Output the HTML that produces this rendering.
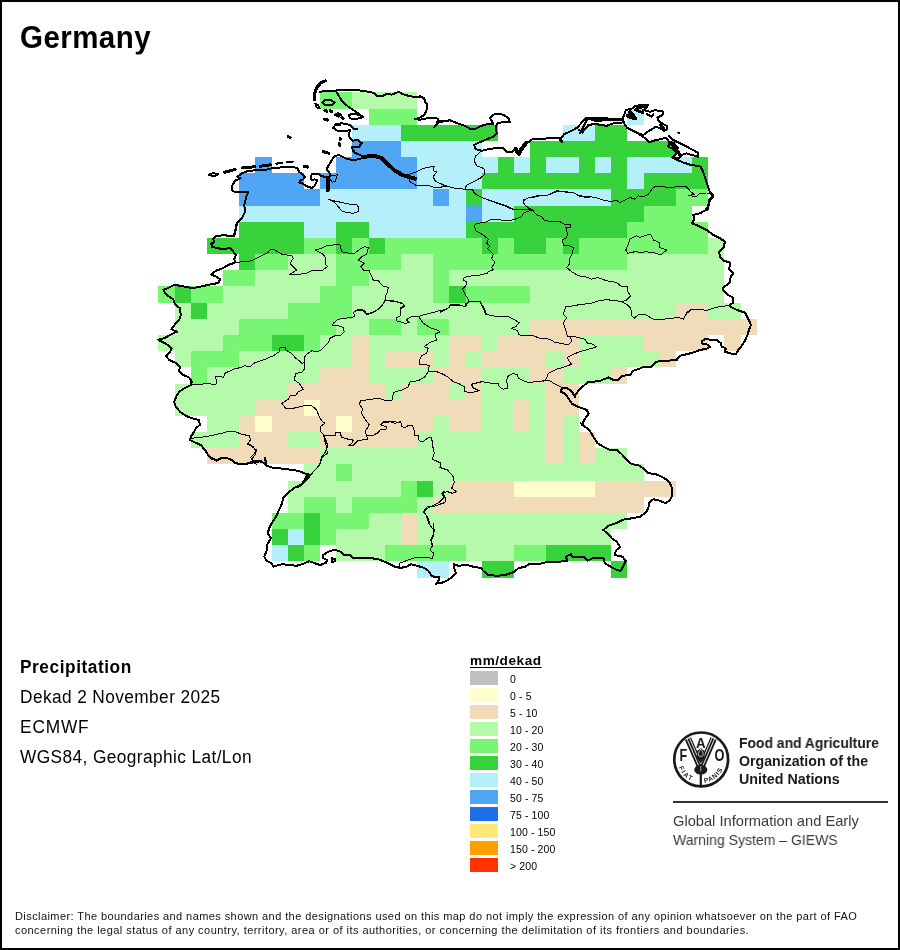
<!DOCTYPE html>
<html lang="en">
<head>
<meta charset="utf-8">
<title>Germany - Precipitation</title>
<style>
html,body{margin:0;padding:0;background:#fff;}
body{width:900px;height:950px;position:relative;overflow:hidden;font-family:"Liberation Sans",Arial,sans-serif;color:#000;}
#frame{position:absolute;left:0;top:0;width:896px;height:946px;border:2px solid #000;pointer-events:none;z-index:5;}
.t{position:absolute;white-space:nowrap;line-height:1;will-change:transform;}
#title{left:19.5px;top:23.1px;font-size:29.5px;font-weight:bold;letter-spacing:0.45px;transform-origin:0 80%;transform:scaleY(1.06);}
.info{left:20px;font-size:17.3px;letter-spacing:0.4px;transform-origin:0 80%;transform:scaleY(1.04);}
#map{position:absolute;left:0;top:0;will-change:transform;}
.sw{position:absolute;left:470px;width:28px;height:14px;}
.lb{will-change:transform;transform:translateY(0.7px);position:absolute;left:509.5px;font-size:10.5px;letter-spacing:0.12px;white-space:nowrap;line-height:1;}
#unit{left:470px;top:653.5px;font-size:13.6px;font-weight:bold;letter-spacing:0.55px;text-decoration:underline;text-underline-offset:2px;text-decoration-thickness:1px;}
.fa{left:739px;font-size:14px;font-weight:bold;transform-origin:0 0;color:#1a1a1a;}
.gi{left:673px;font-size:14.5px;color:#3a3a3a;transform-origin:0 0;}
#rule{position:absolute;left:673px;top:801px;width:215px;height:2px;background:#333;}
.disc{left:15px;font-size:11px;line-height:14px;color:#111;}
</style>
</head>
<body>
<svg id="map" width="900" height="950" viewBox="0 0 900 950">
<g shape-rendering="crispEdges">
<rect x="320" y="92" width="32" height="17" fill="#78f573"/>
<rect x="352" y="92" width="65" height="17" fill="#b4faaa"/>
<rect x="369" y="109" width="48" height="16" fill="#78f573"/>
<rect x="627" y="109" width="17" height="16" fill="#b4f0fa"/>
<rect x="352" y="125" width="49" height="16" fill="#b4f0fa"/>
<rect x="401" y="125" width="97" height="16" fill="#37d23c"/>
<rect x="563" y="125" width="32" height="16" fill="#b4f0fa"/>
<rect x="595" y="125" width="32" height="16" fill="#37d23c"/>
<rect x="352" y="141" width="49" height="16" fill="#50a5f5"/>
<rect x="401" y="141" width="81" height="16" fill="#b4f0fa"/>
<rect x="530" y="141" width="146" height="16" fill="#37d23c"/>
<rect x="255" y="157" width="17" height="16" fill="#50a5f5"/>
<rect x="336" y="157" width="81" height="16" fill="#50a5f5"/>
<rect x="417" y="157" width="81" height="16" fill="#b4f0fa"/>
<rect x="498" y="157" width="16" height="16" fill="#37d23c"/>
<rect x="514" y="157" width="16" height="16" fill="#b4f0fa"/>
<rect x="530" y="157" width="16" height="16" fill="#37d23c"/>
<rect x="546" y="157" width="33" height="16" fill="#b4f0fa"/>
<rect x="579" y="157" width="16" height="16" fill="#37d23c"/>
<rect x="595" y="157" width="16" height="16" fill="#b4f0fa"/>
<rect x="611" y="157" width="16" height="16" fill="#37d23c"/>
<rect x="627" y="157" width="65" height="16" fill="#b4f0fa"/>
<rect x="692" y="157" width="16" height="16" fill="#37d23c"/>
<rect x="239" y="173" width="65" height="16" fill="#50a5f5"/>
<rect x="320" y="173" width="97" height="16" fill="#50a5f5"/>
<rect x="417" y="173" width="65" height="16" fill="#b4f0fa"/>
<rect x="482" y="173" width="145" height="16" fill="#37d23c"/>
<rect x="627" y="173" width="17" height="16" fill="#b4f0fa"/>
<rect x="644" y="173" width="64" height="16" fill="#37d23c"/>
<rect x="239" y="189" width="81" height="17" fill="#50a5f5"/>
<rect x="320" y="189" width="113" height="17" fill="#b4f0fa"/>
<rect x="433" y="189" width="16" height="17" fill="#50a5f5"/>
<rect x="449" y="189" width="17" height="17" fill="#b4f0fa"/>
<rect x="466" y="189" width="16" height="17" fill="#37d23c"/>
<rect x="482" y="189" width="129" height="17" fill="#b4f0fa"/>
<rect x="611" y="189" width="65" height="17" fill="#37d23c"/>
<rect x="676" y="189" width="32" height="17" fill="#78f573"/>
<rect x="239" y="206" width="227" height="16" fill="#b4f0fa"/>
<rect x="466" y="206" width="16" height="16" fill="#50a5f5"/>
<rect x="482" y="206" width="32" height="16" fill="#b4f0fa"/>
<rect x="514" y="206" width="130" height="16" fill="#37d23c"/>
<rect x="644" y="206" width="48" height="16" fill="#78f573"/>
<rect x="239" y="222" width="65" height="16" fill="#37d23c"/>
<rect x="304" y="222" width="32" height="16" fill="#b4f0fa"/>
<rect x="336" y="222" width="33" height="16" fill="#37d23c"/>
<rect x="369" y="222" width="97" height="16" fill="#b4f0fa"/>
<rect x="466" y="222" width="161" height="16" fill="#37d23c"/>
<rect x="627" y="222" width="81" height="16" fill="#78f573"/>
<rect x="207" y="238" width="97" height="16" fill="#37d23c"/>
<rect x="304" y="238" width="32" height="16" fill="#78f573"/>
<rect x="336" y="238" width="16" height="16" fill="#37d23c"/>
<rect x="352" y="238" width="17" height="16" fill="#78f573"/>
<rect x="369" y="238" width="16" height="16" fill="#37d23c"/>
<rect x="385" y="238" width="97" height="16" fill="#78f573"/>
<rect x="482" y="238" width="16" height="16" fill="#37d23c"/>
<rect x="498" y="238" width="16" height="16" fill="#78f573"/>
<rect x="514" y="238" width="32" height="16" fill="#37d23c"/>
<rect x="546" y="238" width="17" height="16" fill="#78f573"/>
<rect x="563" y="238" width="16" height="16" fill="#37d23c"/>
<rect x="579" y="238" width="129" height="16" fill="#78f573"/>
<rect x="708" y="238" width="16" height="16" fill="#b4faaa"/>
<rect x="239" y="254" width="16" height="16" fill="#37d23c"/>
<rect x="255" y="254" width="33" height="16" fill="#78f573"/>
<rect x="288" y="254" width="48" height="16" fill="#b4faaa"/>
<rect x="336" y="254" width="65" height="16" fill="#78f573"/>
<rect x="401" y="254" width="32" height="16" fill="#b4faaa"/>
<rect x="433" y="254" width="194" height="16" fill="#78f573"/>
<rect x="627" y="254" width="97" height="16" fill="#b4faaa"/>
<rect x="223" y="270" width="32" height="16" fill="#78f573"/>
<rect x="255" y="270" width="81" height="16" fill="#b4faaa"/>
<rect x="336" y="270" width="33" height="16" fill="#78f573"/>
<rect x="369" y="270" width="64" height="16" fill="#b4faaa"/>
<rect x="433" y="270" width="16" height="16" fill="#78f573"/>
<rect x="449" y="270" width="275" height="16" fill="#b4faaa"/>
<rect x="158" y="286" width="17" height="17" fill="#78f573"/>
<rect x="175" y="286" width="16" height="17" fill="#37d23c"/>
<rect x="191" y="286" width="32" height="17" fill="#78f573"/>
<rect x="223" y="286" width="97" height="17" fill="#b4faaa"/>
<rect x="320" y="286" width="32" height="17" fill="#78f573"/>
<rect x="352" y="286" width="81" height="17" fill="#b4faaa"/>
<rect x="433" y="286" width="16" height="17" fill="#78f573"/>
<rect x="449" y="286" width="17" height="17" fill="#37d23c"/>
<rect x="466" y="286" width="64" height="17" fill="#78f573"/>
<rect x="530" y="286" width="194" height="17" fill="#b4faaa"/>
<rect x="175" y="303" width="16" height="16" fill="#b4faaa"/>
<rect x="191" y="303" width="16" height="16" fill="#37d23c"/>
<rect x="207" y="303" width="81" height="16" fill="#b4faaa"/>
<rect x="288" y="303" width="64" height="16" fill="#78f573"/>
<rect x="352" y="303" width="324" height="16" fill="#b4faaa"/>
<rect x="676" y="303" width="32" height="16" fill="#f0dcb9"/>
<rect x="708" y="303" width="33" height="16" fill="#b4faaa"/>
<rect x="175" y="319" width="64" height="16" fill="#b4faaa"/>
<rect x="239" y="319" width="97" height="16" fill="#78f573"/>
<rect x="336" y="319" width="33" height="16" fill="#b4faaa"/>
<rect x="369" y="319" width="32" height="16" fill="#78f573"/>
<rect x="401" y="319" width="16" height="16" fill="#b4faaa"/>
<rect x="417" y="319" width="32" height="16" fill="#78f573"/>
<rect x="449" y="319" width="81" height="16" fill="#b4faaa"/>
<rect x="530" y="319" width="227" height="16" fill="#f0dcb9"/>
<rect x="158" y="335" width="65" height="16" fill="#b4faaa"/>
<rect x="223" y="335" width="49" height="16" fill="#78f573"/>
<rect x="272" y="335" width="32" height="16" fill="#37d23c"/>
<rect x="304" y="335" width="16" height="16" fill="#78f573"/>
<rect x="320" y="335" width="32" height="16" fill="#b4faaa"/>
<rect x="352" y="335" width="17" height="16" fill="#f0dcb9"/>
<rect x="369" y="335" width="80" height="16" fill="#b4faaa"/>
<rect x="449" y="335" width="33" height="16" fill="#f0dcb9"/>
<rect x="482" y="335" width="16" height="16" fill="#b4faaa"/>
<rect x="498" y="335" width="81" height="16" fill="#f0dcb9"/>
<rect x="579" y="335" width="65" height="16" fill="#b4faaa"/>
<rect x="644" y="335" width="64" height="16" fill="#f0dcb9"/>
<rect x="724" y="335" width="17" height="16" fill="#f0dcb9"/>
<rect x="175" y="351" width="16" height="16" fill="#b4faaa"/>
<rect x="191" y="351" width="48" height="16" fill="#78f573"/>
<rect x="239" y="351" width="113" height="16" fill="#b4faaa"/>
<rect x="352" y="351" width="17" height="16" fill="#f0dcb9"/>
<rect x="369" y="351" width="16" height="16" fill="#b4faaa"/>
<rect x="385" y="351" width="48" height="16" fill="#f0dcb9"/>
<rect x="433" y="351" width="16" height="16" fill="#b4faaa"/>
<rect x="449" y="351" width="17" height="16" fill="#f0dcb9"/>
<rect x="466" y="351" width="16" height="16" fill="#b4faaa"/>
<rect x="482" y="351" width="64" height="16" fill="#f0dcb9"/>
<rect x="546" y="351" width="17" height="16" fill="#b4faaa"/>
<rect x="563" y="351" width="16" height="16" fill="#f0dcb9"/>
<rect x="579" y="351" width="81" height="16" fill="#b4faaa"/>
<rect x="660" y="351" width="16" height="16" fill="#f0dcb9"/>
<rect x="191" y="367" width="16" height="17" fill="#78f573"/>
<rect x="207" y="367" width="113" height="17" fill="#b4faaa"/>
<rect x="320" y="367" width="49" height="17" fill="#f0dcb9"/>
<rect x="369" y="367" width="64" height="17" fill="#b4faaa"/>
<rect x="433" y="367" width="49" height="17" fill="#f0dcb9"/>
<rect x="482" y="367" width="48" height="17" fill="#b4faaa"/>
<rect x="530" y="367" width="33" height="17" fill="#f0dcb9"/>
<rect x="563" y="367" width="48" height="17" fill="#b4faaa"/>
<rect x="611" y="367" width="16" height="17" fill="#f0dcb9"/>
<rect x="175" y="384" width="113" height="16" fill="#b4faaa"/>
<rect x="288" y="384" width="97" height="16" fill="#f0dcb9"/>
<rect x="385" y="384" width="16" height="16" fill="#b4faaa"/>
<rect x="401" y="384" width="48" height="16" fill="#f0dcb9"/>
<rect x="449" y="384" width="17" height="16" fill="#b4faaa"/>
<rect x="466" y="384" width="16" height="16" fill="#f0dcb9"/>
<rect x="482" y="384" width="64" height="16" fill="#b4faaa"/>
<rect x="546" y="384" width="33" height="16" fill="#f0dcb9"/>
<rect x="175" y="400" width="80" height="16" fill="#b4faaa"/>
<rect x="255" y="400" width="49" height="16" fill="#f0dcb9"/>
<rect x="304" y="400" width="16" height="16" fill="#ffffcc"/>
<rect x="320" y="400" width="162" height="16" fill="#f0dcb9"/>
<rect x="482" y="400" width="32" height="16" fill="#b4faaa"/>
<rect x="514" y="400" width="16" height="16" fill="#f0dcb9"/>
<rect x="530" y="400" width="16" height="16" fill="#b4faaa"/>
<rect x="546" y="400" width="33" height="16" fill="#f0dcb9"/>
<rect x="207" y="416" width="32" height="16" fill="#b4faaa"/>
<rect x="239" y="416" width="16" height="16" fill="#f0dcb9"/>
<rect x="255" y="416" width="17" height="16" fill="#ffffcc"/>
<rect x="272" y="416" width="64" height="16" fill="#f0dcb9"/>
<rect x="336" y="416" width="16" height="16" fill="#ffffcc"/>
<rect x="352" y="416" width="81" height="16" fill="#f0dcb9"/>
<rect x="433" y="416" width="16" height="16" fill="#b4faaa"/>
<rect x="449" y="416" width="33" height="16" fill="#f0dcb9"/>
<rect x="482" y="416" width="32" height="16" fill="#b4faaa"/>
<rect x="514" y="416" width="16" height="16" fill="#f0dcb9"/>
<rect x="530" y="416" width="16" height="16" fill="#b4faaa"/>
<rect x="546" y="416" width="17" height="16" fill="#f0dcb9"/>
<rect x="563" y="416" width="16" height="16" fill="#b4faaa"/>
<rect x="191" y="432" width="48" height="16" fill="#b4faaa"/>
<rect x="239" y="432" width="49" height="16" fill="#f0dcb9"/>
<rect x="288" y="432" width="32" height="16" fill="#b4faaa"/>
<rect x="320" y="432" width="97" height="16" fill="#f0dcb9"/>
<rect x="417" y="432" width="129" height="16" fill="#b4faaa"/>
<rect x="546" y="432" width="17" height="16" fill="#f0dcb9"/>
<rect x="563" y="432" width="16" height="16" fill="#b4faaa"/>
<rect x="579" y="432" width="16" height="16" fill="#f0dcb9"/>
<rect x="207" y="448" width="113" height="16" fill="#f0dcb9"/>
<rect x="320" y="448" width="226" height="16" fill="#b4faaa"/>
<rect x="546" y="448" width="17" height="16" fill="#f0dcb9"/>
<rect x="563" y="448" width="16" height="16" fill="#b4faaa"/>
<rect x="579" y="448" width="16" height="16" fill="#f0dcb9"/>
<rect x="595" y="448" width="32" height="16" fill="#b4faaa"/>
<rect x="304" y="464" width="32" height="17" fill="#b4faaa"/>
<rect x="336" y="464" width="16" height="17" fill="#78f573"/>
<rect x="352" y="464" width="292" height="17" fill="#b4faaa"/>
<rect x="288" y="481" width="113" height="16" fill="#b4faaa"/>
<rect x="401" y="481" width="16" height="16" fill="#78f573"/>
<rect x="417" y="481" width="16" height="16" fill="#37d23c"/>
<rect x="433" y="481" width="16" height="16" fill="#b4faaa"/>
<rect x="449" y="481" width="65" height="16" fill="#f0dcb9"/>
<rect x="514" y="481" width="81" height="16" fill="#ffffcc"/>
<rect x="595" y="481" width="81" height="16" fill="#f0dcb9"/>
<rect x="288" y="497" width="16" height="16" fill="#b4faaa"/>
<rect x="304" y="497" width="32" height="16" fill="#78f573"/>
<rect x="336" y="497" width="16" height="16" fill="#b4faaa"/>
<rect x="352" y="497" width="65" height="16" fill="#78f573"/>
<rect x="417" y="497" width="16" height="16" fill="#b4faaa"/>
<rect x="433" y="497" width="211" height="16" fill="#f0dcb9"/>
<rect x="272" y="513" width="32" height="16" fill="#78f573"/>
<rect x="304" y="513" width="16" height="16" fill="#37d23c"/>
<rect x="320" y="513" width="49" height="16" fill="#78f573"/>
<rect x="369" y="513" width="32" height="16" fill="#b4faaa"/>
<rect x="401" y="513" width="16" height="16" fill="#f0dcb9"/>
<rect x="417" y="513" width="210" height="16" fill="#b4faaa"/>
<rect x="272" y="529" width="16" height="16" fill="#37d23c"/>
<rect x="288" y="529" width="16" height="16" fill="#b4f0fa"/>
<rect x="304" y="529" width="16" height="16" fill="#37d23c"/>
<rect x="320" y="529" width="16" height="16" fill="#78f573"/>
<rect x="336" y="529" width="65" height="16" fill="#b4faaa"/>
<rect x="401" y="529" width="16" height="16" fill="#f0dcb9"/>
<rect x="417" y="529" width="194" height="16" fill="#b4faaa"/>
<rect x="272" y="545" width="16" height="16" fill="#b4f0fa"/>
<rect x="288" y="545" width="16" height="16" fill="#37d23c"/>
<rect x="304" y="545" width="16" height="16" fill="#78f573"/>
<rect x="336" y="545" width="49" height="16" fill="#b4faaa"/>
<rect x="385" y="545" width="81" height="16" fill="#78f573"/>
<rect x="466" y="545" width="48" height="16" fill="#b4faaa"/>
<rect x="514" y="545" width="32" height="16" fill="#78f573"/>
<rect x="546" y="545" width="65" height="16" fill="#37d23c"/>
<rect x="417" y="561" width="32" height="17" fill="#b4f0fa"/>
<rect x="482" y="561" width="32" height="17" fill="#37d23c"/>
<rect x="611" y="561" width="16" height="17" fill="#37d23c"/>
</g>
<g fill="none" stroke="#000" stroke-linejoin="round" stroke-linecap="round" shape-rendering="crispEdges">
<path d="M325.3 80.8 L320.8 83 L316.7 87.5 L314.7 93.3 L314.7 100" stroke-width="3"/>
<path d="M319.7 91.7 L326.7 91.2 L335.8 90.5 L348.3 90 L355.8 90 L365.8 91.3 L374.2 93 L376.7 96.3 L381.7 96.3 L386.7 93.8 L391.7 94.7 L398.7 91.7 L402 93.8 L408.3 95.8 L416.7 97.5 L420 96.3 L424.2 98.3 L425.3 102.5 L427.5 105 L426.3 110.8 L424.2 115 L419.2 118 L415 119.2 L420 119.7 L431.7 117.5 L438.3 118.7 L436.7 124.2 L434.2 127.5 L438.3 122.5 L445 121.2 L450 120.3" stroke-width="2"/>
<path d="M335.8 90.8 L339.2 96.7 L342.5 101.7 L348.3 106.7 L355 111.3 L363.3 117 L355.8 119.2 L349.7 118.3 L349.3 114.7 L355.8 113.7 L362.5 116.7" stroke-width="2"/>
<path d="M357.5 129.2 L353.3 128.7 L350 125 L341.7 123.3 L335.8 124.2 L333.3 128 L337.5 130.8 L345 130.8 L350 130.3 L348.7 135.8 L352.5 140.8 L357.5 139.7 L361.7 143 L358.7 147.5 L352 146.7 L353 151.3 L359.2 154.7 L364.2 156.7" stroke-width="2"/>
<path d="M364.2 156.7 L375 156 L381.7 158 L388.3 164.7 L395 170.8 L403.3 175.3 L415 178.7" stroke-width="4"/>
<path d="M328 178.3 L328 190" stroke-width="4"/>
<path d="M322 102.5 L325 100.3 L330.8 100 L334.7 102.5 L331.7 105 L325 105 Z" stroke-width="2"/>
<path d="M315.3 103.7 L318.3 105.3 L319.7 108.3 L316.7 107.5 Z" stroke-width="2"/>
<path d="M325 110.3 L326.7 111.3" stroke-width="3"/>
<path d="M330 110.7 L332 111.7" stroke-width="3"/>
<path d="M334.7 115 L338 113.3 L341.3 114.7 L338.3 116.7 Z" stroke-width="2"/>
<path d="M324.2 119.2 L327.5 120" stroke-width="3"/>
<path d="M341.7 117.5 L343 118.7" stroke-width="3"/>
<path d="M340 138.3 L340 139.7" stroke-width="3"/>
<path d="M339.2 143.3 L340 145.3" stroke-width="3"/>
<path d="M323.3 151.3 L325 152.7" stroke-width="3"/>
<path d="M327 152.7 L328.7 153.3" stroke-width="3"/>
<path d="M304.2 166.3 L307.5 167" stroke-width="3"/>
<path d="M335.8 124.7 L340 125" stroke-width="3"/>
<path d="M408.3 174.7 L416.7 171.7 L423.3 168.3 L434.2 166.3 L433.3 170.8 L436.7 171.7 L433.3 176.7 L435 180.8 L441.7 184.2 L450 187" stroke-width="1"/>
<path d="M408.3 174.7 L410 181.7 L416.7 185.8 L426.7 185 L436.7 188 L445 186.3 L450 187" stroke-width="1"/>
<path d="M208.7 174.7 L213.3 173 L218.3 174.3 L214.2 176.3 Z" stroke-width="2"/>
<path d="M224.8 172.2 L235.2 169.5" stroke-width="3"/>
<path d="M242.7 167.8 L254.8 166.8" stroke-width="3"/>
<path d="M260.2 166.2 L270.7 164.8" stroke-width="3"/>
<path d="M276.3 163.7 L282 162.8" stroke-width="2"/>
<path d="M287.2 162.2 L292.8 161.7" stroke-width="2"/>
<path d="M288 136.7 L290.3 137.5" stroke-width="3"/>
<path d="M293.3 167.3 L283.3 167.3 L273.3 168 L265 170 L256.7 170.3 L248.3 170.8 L241.7 173.3 L237.5 176.7 L240.8 178.3 L235 180.8 L232.5 185 L231.7 190 L235 192 L248.3 192 L246.3 196.7 L244.2 205 L245.3 211.7 L241.7 218.3 L236.7 223.3 L235 231.7 L233.3 236.3" stroke-width="2"/>
<path d="M236.7 225 L235.3 231.7 L234.2 236 L223.3 235.3 L215.8 236 L213 238.7 L214.2 242.2 L211.3 243.7 L212 246.7 L216.7 248 L223.3 249.2 L230 248 L233.3 251.7 L235.8 255 L234.2 259.2 L235.3 262.5 L228.3 265 L221.7 268.7 L215.8 270.8 L211.3 274.7 L216.7 276.7 L220 279.2 L218.3 283 L211.7 284.2 L201.7 286.3 L192.5 288.3 L185 286.7 L177.5 285.3 L173.3 285.3 L167.5 288.3 L163.3 289.7 L165.8 294.2 L169.2 296.7 L173.3 299.2 L175 304.2 L180 308.3 L180.8 315 L179.2 320 L175 324.2 L171.3 329.2 L176.7 331.7 L170 335 L164.2 338.3 L158.3 339.7" stroke-width="2"/>
<path d="M235.3 262.5 L251.7 260.8 L260 256.7 L268.3 252.5 L270.3 249.2 L275 250 L281.7 254.2 L291.7 255.8 L293.3 258.3 L290 263.3 L293.3 266.7 L296.7 270 L291.7 273.3 L289.2 274.2 L295 275 L300 274.2" stroke-width="1"/>
<path d="M158.3 339.7 L160 340.8 L166.7 344.2 L171.7 348.3 L170 352.5 L165.8 355.8 L169.2 360 L175 362.5 L180 366.7 L179.2 370.8 L183.3 375 L189.2 377.5 L191.7 381.7 L190.8 385 L185.8 387.5 L179.2 391.7 L176.7 395.8 L174.2 401.7 L175.8 406.7 L180 411.7 L185.8 415.8 L191.7 418.3 L199.2 420 L199.7 425 L195.8 428.3 L193.7 432.5 L190.8 436.7 L190 440 L195 442.5 L200.8 445 L205 450 L208.3 455 L212.5 459.2 L216.7 460.3 L221.7 458.3 L226.7 458 L231.7 460 L235.8 463 L240 464.2 L250 463.3 L256.7 461.7 L261.7 461.3 L265 464.2" stroke-width="2"/>
<path d="M191.7 384.2 L200 384.2 L208.3 383.7 L215.8 384.7 L216.7 380 L215 377 L220 376.3 L223.3 377.5 L225 373.3 L233.3 369.2 L240.8 367.5 L244.2 365.8 L250 366.7 L255 362.5 L263.3 360 L273.3 355.8 L279.2 351.7 L280 348 L285.3 347.5 L285.8 350 L291.7 353.3 L295 357.5 L300 361.7" stroke-width="1"/>
<path d="M190 438.3 L200 437.5 L210 435.8 L221.7 433.3 L228.3 431.3 L235 431.7 L241.7 434.2 L249.2 435.8 L250.8 440 L247.5 444.2 L253.3 447.5 L256.7 450 L255 455 L251.7 459.2 L253.3 462.5 L256.7 464.2" stroke-width="1"/>
<path d="M265 458.3 L266.7 465.8 L273.3 468 L283.3 468.7 L290 469.7 L298.3 470.8 L306.7 474.2 L310.8 474.7 L306.7 479.2 L301.7 484.2 L295 487.5 L288.3 492.5 L283.3 497.5 L281.7 504.2 L278.3 511.7 L275 518.3 L271.7 523.3 L268.7 529.2 L268 534.2" stroke-width="2"/>
<path d="M212.5 458.3 L216.7 460.8 L221.7 457.5 L226.7 458 L231.7 460 L235.8 463.3 L241.7 464.2 L248.3 463.3 L253.3 461.3 L258.3 460.8 L263.3 462.5 L266.7 465.8" stroke-width="2"/>
<path d="M250 440 L248.3 443.3 L253.3 446.7 L255.8 450.8 L253.3 455 L250.8 457.5 L253.3 461.3" stroke-width="1"/>
<path d="M310.8 474.7 L316.7 468.3 L320 463.3 L321.7 456.7 L325.8 451.7 L326.7 446.7 L324.2 440" stroke-width="1"/>
<path d="M268 533.3 L270.8 538.3 L267.5 544.2 L266.7 550.8 L264.2 556.7 L266.7 560.8 L271.7 563.3 L273.3 566.7 L281.7 564.2 L289.2 565 L296.7 565.8 L303.3 563.7 L309.2 561.3 L315 563.3 L320 565 L325.8 563 L327.5 560 L323.3 558.3 L323.3 555 L328.3 551.7 L335 549.7 L340.8 551.7 L344.2 555 L350 555.3 L353.3 558.3 L363.3 558.3 L370 558 L378.3 559.2 L386.7 562.5 L395 566.7 L400 567.5" stroke-width="2"/>
<path d="M331.7 558.3 L335 558.7 L335.3 561.3 L332 561.7 Z" stroke-width="2"/>
<path d="M390 564.2 L395 566.7 L400 568 L406.7 566.7 L410.8 564.2 L416.7 565.8 L423.3 567.5 L428.3 570.8 L431.7 575.8 L435.8 577.5 L439.2 576.7 L438.3 581.7 L435.8 583.7 L441.7 583 L447.5 580.3 L452.5 576.7 L455.8 573.3 L454.2 567.5 L454.2 564.2 L458.3 565.8 L466.7 565 L473.3 566.7 L480.8 568 L483.3 570.8 L488.3 575 L496.7 575.8 L505 575 L510 573.3 L514.2 572 L518.3 568.3 L525 566.7 L529.2 564.2 L536.7 563.7 L540 563.7" stroke-width="2"/>
<path d="M432.5 558.3 L425.8 557.5 L415 557.5 L408.3 560 L400 563 L399.2 565.8" stroke-width="1"/>
<path d="M530 564.2 L540 563.7 L545 562.5 L555 561.7 L567.5 561.3 L565.8 556.7 L570.8 554.2 L572.5 556.7 L583.3 556.7 L587.5 560.8 L592.5 558.3 L603.3 558 L605 563.3 L610.8 566.7 L616.7 570 L620.8 570.8 L623.3 565.8 L625.8 560.8 L622.5 556.7 L615 555 L615.8 550.8 L620 546.7 L616.7 541.7 L611.7 538.3 L608.3 534.2 L603.3 530 L608.3 525.8 L616.7 523 L623.3 519.7 L631.7 518.3 L640 516.7 L645.8 512.5 L648.3 508.3 L649.2 502.5 L653.3 499.2 L660 500.8 L665.8 503.3 L670 500 L672.5 495 L672 488.3 L670 483.3 L665.8 479.2 L660 475.8 L654.2 473.7 L648.3 473.3 L645 470" stroke-width="2"/>
<path d="M645 470 L643.3 468.3 L638.3 465 L631.7 464.2 L626.7 460 L621.7 454.2 L616.7 450 L610 450 L603.3 446.7 L597.5 443.3 L593.3 436.7 L589.2 430 L585 426.7 L580.8 423.3" stroke-width="2"/>
<path d="M676.7 360 L666.7 360.8 L655.8 361.7 L650.8 367.5 L644.2 366.7 L638.3 369.2 L633.3 370.8 L630 375 L621.7 375.8 L618.3 380 L613.3 380 L608.3 377.5 L600 380.8 L593.3 381.7 L587.5 382.5 L582.5 386.7 L578.3 390.8 L575 395.8" stroke-width="2"/>
<path d="M575 396.7 L571.7 391.3 L567 388 L562 388 L560.7 391.7 L565 393.7 L568.7 398.7 L572 403.7 L578.7 407 L586.7 410 L588.7 413.7 L585 418.7 L581.7 425" stroke-width="2"/>
<path d="M440 312.5 L446.7 309.2 L450.8 305 L460 305 L465.8 306.7 L468.3 301.7 L480 301.7 L483.3 306.7 L486.7 314.2 L491.7 315.8 L500 316.7 L508.3 316.7 L513.3 319.2 L519.2 322.5 L515.8 326.7 L511.7 328.3 L517.5 330.8 L519.2 335 L526.7 335.3 L533.3 335.8 L540 338.3" stroke-width="1"/>
<path d="M548.3 380 L540 381.3 L533.3 382 L526.7 382 L521.7 380 L518.3 378.3 L517.5 375 L513.3 373.3 L508.3 375.8 L506.7 380 L507.5 388.3 L503.3 389.2 L499.2 386.7 L498.3 383.3 L490 383 L481.7 381.7 L471.7 384.2 L472.5 387.5 L479.2 390.8 L475.8 391.7 L470 392.5 L465 391.7 L464.2 386.7 L460 384.2 L453.3 381.7 L447.5 376.7 L440 373" stroke-width="1"/>
<path d="M548.3 380 L556.7 385 L562.5 387.5" stroke-width="1"/>
<path d="M676.7 359.7 L680 355.8 L686.7 354.2 L693.3 352.5 L700 350 L706.7 348.7 L710 346.7 L706.7 344.2 L702.5 344.2 L701.7 341.3 L705 339.2 L711.7 339.7 L716.7 340 L720.8 343 L721.7 346.7 L725.8 348.3 L725 351.7 L730 353.3 L735.8 354.2 L738.3 350 L741.7 345.8 L745 340.8 L747.5 335 L749.2 329.2 L750.8 325 L749.2 320.8 L746.7 315.8 L745 312.5 L739.2 310.8 L733.3 308.3 L729.2 305.8 L733.3 302.5 L732.5 297.5 L728.3 295 L724.2 291.7 L722.5 288.3 L726.7 285 L730 282.5 L730 280" stroke-width="2"/>
<path d="M730 280 L730.8 276.7 L733.3 273.3 L729.2 269.2 L730 262.5 L724.2 260.8 L720 256.7 L719.2 251.7 L723.3 248.3 L725 241.7 L720 238.3 L713.3 235 L706.7 230 L698.3 225.8 L692 223.3 L694.2 219.2 L693.3 215 L700 213.3 L705.8 210 L709.2 204.2 L709.2 200 L713.3 195.8 L710.8 192.5" stroke-width="2"/>
<path d="M630 239.2 L636.7 235.8 L640 237.5 L646.7 235 L650.8 234.2 L653.3 240 L659.2 242.5 L660 247.5 L666.7 250 L660.8 255 L653.3 252.5 L645 251.7 L641.7 252.5 L635 251.7 L627.5 253.3 L625.8 250 L628.3 244.2 Z" stroke-width="1"/>
<path d="M580 133.3 L582.5 128.3 L585 123.3 L587.5 118.3 L590.8 119.2 L595 120.8 L606.7 120.3 L621.7 120 L624.2 123.3 L626.7 127.5 L633.3 130.8 L638.3 133.3 L642.5 136.7 L645.8 138.3 L649.2 142.5 L653.3 140.8 L660 139.2 L665.8 138 L669.2 141.7 L668.3 146.7 L673.3 149.2 L676.7 153.3 L672.5 157.5 L677.5 160 L683.3 162.5 L690 164.7 L696.7 165.8 L700.8 166.7 L703.3 172.5 L705.8 180 L708.3 187.5 L710.8 194.2 L713.3 196.7 L710 200 L708.3 205 L707.5 210" stroke-width="2"/>
<path d="M587.5 118.3 L621.7 119.5" stroke-width="3"/>
<path d="M581.7 132.5 L585 129.2 L589.2 125 L595 123.7 L600.8 125 L606.7 125.8 L611.7 123.7 L621.7 122.5" stroke-width="2"/>
<path d="M624.2 123.3 L622.5 119.2 L624.2 115 L625.8 110 L633.3 108.3 L635 105.8 L648.3 104.7 L646.7 107.5 L643.3 110 L650 111.7 L655 110.3 L662.5 111.3 L662.5 115 L657.5 117.5 L658.3 120.8 L663.3 124.2 L666.7 125.8 L667.5 129.2 L664.2 130.8 L660 128.3 L655.8 126.7 L651.7 129.2 L646.7 132.5 L643.3 135 L638.3 133.3" stroke-width="2"/>
<path d="M627.5 115.8 L635 118.3" stroke-width="4"/>
<path d="M630 112.5 L633.3 115.8" stroke-width="4"/>
<path d="M635.8 110 L642.5 112.5" stroke-width="3"/>
<path d="M637.5 108.3 L645.8 105.8" stroke-width="3"/>
<path d="M646.7 114.2 L651.7 116.7 L653.3 114.2" stroke-width="2"/>
<path d="M660.8 125 L664.2 129.2" stroke-width="3"/>
<path d="M669.2 135.8 L673.3 140 L680 143.3 L688.3 147.5 L697.5 152.5 L698.3 156.7 L691.7 155 L686.7 153.3 L681.7 155 L678.3 158.3 L672.5 157.5" stroke-width="2"/>
<path d="M670.8 142.5 L674.2 147.5 L678.3 151.7 L680 155.8" stroke-width="3"/>
<path d="M673.3 143.3 L677.5 148.3" stroke-width="3"/>
<path d="M678.3 132.7 L679.3 133.3" stroke-width="2"/>
<path d="M580 195.8 L590 196.7 L598.3 198.3 L603.3 200 L611.7 201.7 L615.8 200 L620 202.5 L625 200 L630 197.5 L635 199.2 L638.3 195.8 L643.3 196.7 L648.3 194.2 L652.5 188.3 L655 186.7 L665 187 L671.7 187.5 L680 186.3 L686.7 187 L690.8 191.7 L694.2 194.2 L688.3 195.8 L696.7 196.3 L700 193.3 L706.7 193 L712.5 193.3" stroke-width="1"/>
<path d="M440 121.3 L450 120.3 L458.3 123.7 L465 125.8 L470 128.7 L475.8 128.7 L481.7 125.8 L488.3 123.7 L493.3 123.7 L490 118.3 L492.5 115 L497.5 113.7 L504.2 115 L509.2 119.2 L509.7 122.5 L504.2 122 L498.3 123 L495.8 125.8 L496.7 133.3 L493.3 136.7 L486.7 139.2 L479.2 142.5 L474.2 145 L475.8 149.2 L481.7 150.8 L488.3 149.2 L496.7 148 L503.3 148.3 L506.7 151.7 L511.7 152.5 L515 148.3 L519.2 155 L523.3 148.3 L526.7 143.3 L532.5 139.2 L540 139.2 L548.3 138.3 L556.7 137.5 L560.8 138.3 L562.5 142.5 L560 140 L564.2 134.2 L571.7 130.8 L577.5 127.5 L581.7 122.5 L586.7 117.5 L590 117.5" stroke-width="2"/>
<path d="M515.8 149.2 L518.3 153.3 L525.8 143.3" stroke-width="4"/>
<path d="M579.2 130 L582.5 132.5 L585 128.7 L588.3 125" stroke-width="2"/>
<path d="M481.7 150.8 L475.8 155.8 L474.2 160.8 L476.7 165.8 L481.7 167.5 L485 170 L484.2 175 L480 178.3 L473.3 181.7 L466.7 185 L465 188.7" stroke-width="1"/>
<path d="M440 183.3 L445 185.8 L455 188.3 L465 189.2 L472.5 190 L475 194.2 L481.7 197.5 L488.3 200 L495 202.5 L499.2 204.2 L506.7 206.7 L513.3 209.7" stroke-width="1"/>
<path d="M530 209.2 L525 205 L523.3 201.7 L526.7 198.3 L533.3 196.7 L540 195 L548.3 195 L556.7 190.8 L565 191.7 L573.3 192.5 L580 195.8 L590 197" stroke-width="1"/>
<path d="M328.3 199.2 L334.2 200.8 L341.7 202.5 L350 204.2 L356.7 204.7 L358.7 207.5 L358.3 211.7 L353.3 213.3 L346.7 212.5 L341.7 210.8 L338.3 206.7 L334.2 201.7 Z" stroke-width="1"/>
<path d="M300 274.2 L306.7 273.3 L311.7 270.8 L321.7 270.8 L327.5 266.7 L325 263.3 L325 256.7 L321.7 253.3 L315 250 L321.7 248.3 L326.7 245.8 L335.8 244.7 L340 245 L341.7 251.7 L348.3 253 L355 253 L360 249.2 L364.2 246.7 L368.3 247.5 L366.7 254.2 L361.7 256.7 L358.3 260 L364.2 263.3 L360.8 266.7 L363.3 270 L369.2 270.8 L371.7 276.7 L373.3 280 L378.3 280.8 L382.5 285.8 L388.3 287.5 L387.5 292.5 L385 296.7 L385 300.8 L382.5 305 L378.3 309.2 L371.7 313.3 L366.7 314.7 L362.5 310 L357.5 309.7 L353.3 312.5" stroke-width="1"/>
<path d="M385 300.8 L390.8 300.3 L398.3 302 L403.3 304.2 L404.2 306.7 L400 309.2 L400.8 314.2" stroke-width="1"/>
<path d="M472.5 190 L475.8 194.2 L481.7 197.5 L490 200.3 L498.3 203 L506.7 205.8 L513.3 209.2 L523.3 209.7 L532.5 210" stroke-width="1"/>
<path d="M532.5 210 L526.7 206.7 L523.3 203.3 L523.3 200 L528.3 198 L535 197 L540 195.8 L548.3 195 L556.7 191.7 L565 192 L573.3 192.5 L580 196.7 L590 197.5" stroke-width="1"/>
<path d="M532.5 210 L526.7 211.7 L523.3 213.3 L521.7 216.7 L515 219.2 L508.3 220.8 L498.3 219.7 L490 220 L485 222.5 L476.7 223.3 L474.2 225.8 L475.8 230.8 L483.3 235 L488.3 239.2 L486.7 243.3 L490 245.8 L487.5 248.3 L493.3 254.2 L491.7 258.3 L495 262.5 L491.7 267.5 L493.3 270 L488.3 271.7 L487.5 273.3 L480 275 L471.7 275.8 L464.2 277.5 L463.3 280 L466.7 281.7 L465.8 285.8 L462.5 289.2 L465 294.2 L468.3 299.2 L469.2 301.7 L465 304.2 L465.8 306.7 L460 305 L450 304.7 L449.2 307.5 L443.3 310 L440 311.3" stroke-width="1"/>
<path d="M469.2 301.7 L480 301.3 L482.5 306.7 L485 312.5 L485.8 315" stroke-width="1"/>
<path d="M532.5 210 L536.7 215 L541.7 216.7 L544.2 220 L550 221.7 L560 221.7 L564.2 224.2 L570 224.2 L570 227.5 L565.8 227.5 L567.5 233.3 L566.7 237.5 L562.5 240 L563.3 245 L568.3 245 L573.3 247.5 L572.5 253.3 L570 258.3 L569.2 264.2 L566.7 267.5 L571.7 271.7 L578.3 275.8 L585 276.7 L590 278.3" stroke-width="1"/>
<path d="M590 278.3 L591.7 279.2 L597.5 277.5 L606.7 280.8 L616.7 282.5 L621.7 286.7 L627.5 286.7 L627.5 291.7 L630.8 295.8 L626.7 300 L621.7 301.7" stroke-width="1"/>
<path d="M565.8 306.7 L573.3 305.8 L581.7 304.2 L590 303.7 L598.3 300.8 L606.7 299.7 L616.7 300.8 L621.7 301.7 L626.7 304.2 L630.8 308.3 L631.7 315.8 L634.2 318.3 L638.3 314.7 L645 314.2 L653.3 319.2 L663.3 319.2 L671.7 318.3 L678.3 317.5 L683.3 319.2 L686.7 313.3 L690 311.7" stroke-width="1"/>
<path d="M565.8 306.7 L563.3 314.2 L566.7 317.5 L563.3 323.3 L565.8 330 L567.5 336.7 L575.8 337 L585 339.2 L587.5 343.3 L593.3 344.2 L596.3 347 L588.3 349.2 L580 351.7 L573.3 354.2 L567.5 357.5 L568.3 360 L571.7 364.2 L565 366.7 L556.7 369.2 L548.3 373.3 L546.7 378.3 L543.3 381.7" stroke-width="1"/>
<path d="M540 338 L550 339.2 L555 342.5 L561.7 343.3 L568.3 345 L571.3 341.7 L570.8 337.5" stroke-width="1"/>
<path d="M385 300 L382.5 305 L378.3 309.2 L371.7 312.5 L366.7 314.2 L364.2 310 L358.3 310 L353.3 312.5 L355 316.7 L346.7 318 L338.3 319.2 L333.3 323.3 L332.5 325.8 L338.3 325.8 L343.3 327.5 L344.2 331.7 L340.8 335 L335 335.8 L330 338.3 L328.3 342.5 L324.2 346.7 L320 350.8 L315.8 351.7 L311.7 350.8 L306.7 354.2 L304.2 357.5 L304.2 362.5 L301.7 363.3 L298.3 360 L295 358" stroke-width="1"/>
<path d="M385 300 L393.3 301.7 L401.7 302.5 L404.2 305.8 L400 308.3 L400.8 315.8 L396.7 317.5 L396.7 320.8 L405 323.3 L410 322.5 L405.8 320 L411.7 316.7 L418.3 316.7 L423.3 315 L433.3 312.5 L438.3 310.8 L445 310" stroke-width="1"/>
<path d="M419.2 317.5 L423.3 323.3 L430 327.5 L436.7 330 L440 331.7 L435 334.2 L436.7 340 L430 342.5 L424.2 346.7 L428.3 348.3 L426.7 353.3 L421.7 355.8 L419.2 360.8 L419.2 364.2 L425 364.2 L429.2 365.8 L428.3 371.7 L436.7 371.7 L445 375" stroke-width="1"/>
<path d="M428.3 371.7 L425 376.7 L418.3 380.8 L410 381.7 L408.3 386.7 L401.7 390 L393.3 392.5 L392.5 400 L386.7 400.8 L378.3 398.3 L368.3 399.7 L360.8 400.8 L359.2 404.2 L362.5 408.3 L361.7 413.3 L365 419.2 L369.2 424.7" stroke-width="1"/>
<path d="M380 424.7 L383.3 422.5 L393.3 421.7 L400.8 422.5 L401.7 425" stroke-width="1"/>
<path d="M323.3 435 L325 440 L327.5 444.2 L326.7 450 L327.5 453.3 L322.5 456.7 L320 464.2 L315.8 469.2 L311.7 473.3 L307.5 476.3" stroke-width="1"/>
<path d="M307.5 475.3 L303.3 481.7 L300.8 485.8 L295 487.5" stroke-width="2"/>
<path d="M323.3 435 L329.2 435.8 L335 435.8 L335 432.5 L340 432.5 L341.7 437.5 L348.3 439.2 L353.3 440 L351.7 443.3 L348.3 445.8 L353.3 445.3 L357.5 440.8 L361.7 440 L367.5 439.2 L366.7 435.8" stroke-width="1"/>
<path d="M369.2 424.7 L366.7 429.2 L365 431.7 L366.7 435.8" stroke-width="1"/>
<path d="M366.7 435.8 L373.3 435.3 L378.3 432.5 L380 430 L385.8 429.7 L386.7 426.7 L380.8 425 L383.3 421.7 L390 421.7 L395 423.3 L400.8 421.3 L401.7 426.7 L405 427.5 L409.2 425 L412.5 425.8 L414.2 430.8 L415 435.8 L418.3 435.8 L419.2 440.8 L423.3 441.7 L428.3 437.5 L431.7 437.5 L432.5 445" stroke-width="1"/>
<path d="M445 490.8 L441.7 493.3 L444.2 497.5 L440 501.7 L434.2 505 L428.3 507.5 L424.2 511.7 L426.7 516.7 L429.2 525" stroke-width="1"/>
<path d="M432.5 445 L434.2 453.3 L432.5 459.2 L440.8 463 L440 467.5 L447.5 470 L453.3 476.7 L454.2 482.5 L451.7 488.3 L456.7 491.7 L452.5 493.3 L447.5 491.7 L442.5 492.5 L445.8 498.3 L445 502.5 L440 504.2 L433.3 506.7 L427.5 506.7 L423.3 511.7 L428.3 518.3 L430 525 L434.2 530.8 L433.3 536.7 L430.8 540 L431.7 545" stroke-width="1"/>
<path d="M433.3 523.3 L434.2 530.8 L432.5 536.7 L430.8 540 L433 545 L430 550 L433.7 553.3 L432.5 558.3" stroke-width="1"/>
<path d="M690 311.7 L686.7 312.5 L691.7 309.2 L698.3 309.2 L706.7 310.3 L713.3 308.3 L720 306.3 L729.2 305.8" stroke-width="1"/>
<path d="M304.2 363.3 L305 368.3 L301.7 372.5 L295.8 373.3 L294.2 380 L299.2 383.3 L303.3 389.2 L298.3 391.7 L295.8 395 L290 395.8 L288.3 399.2 L281.7 403.3 L285.8 408.3 L293.3 408.3 L300 406.7 L306.7 405.3 L311.7 405.8 L316.7 410 L319.2 416.7 L322.5 421.7 L325 423.3 L320 426.7 L320 430.8 L323.3 434.2 L326.7 441.7" stroke-width="1"/>
<path d="M293.9 167.2 L297.8 168.3 L298.9 171.7 L302.2 173.9 L305 176.7 L303.3 179.4 L300 180.6 L299.4 182.8 L302.2 183.3 L305.6 185.6 L308.9 187.2 L312.2 187.8 L314.4 186.1 L316.1 182.8 L317.2 180 L314.4 179.4 L311.7 180 L310.6 177.2 L311.7 174.4 L314.4 173.6 L318.3 173.9 L321.1 175.8 L325 176.9 L328.9 176.7 L330.6 175 L328.9 172.2 L326.7 170 L327.8 166.7 L330 163.3 L332.2 159.4 L335 156.1 L338.9 155 L342.2 156.7 L346.7 158.9 L352.2 159.8 L358.9 159.4 L362.2 157.8 L364.4 156.7 L370 156.9" stroke-width="2"/>
<path d="M352.8 150 L355.6 153.3 L360 155 L364.4 156.7" stroke-width="2"/>
<path d="M330.6 176.1 L334.4 175.6 L337.2 174.4 L336.7 177.8 L335 181.7 L332.2 182.2 L330.6 180" stroke-width="1"/>
<path d="M176 331.3 L177 332" stroke-width="3"/>
</g>
<g id="fao-logo" transform="translate(701.2 759.4)">
<circle cx="0" cy="0" r="26.9" fill="#fff" stroke="#1a1a1a" stroke-width="2.7"/>
<!-- wheat ear V -->
<g stroke="#1a1a1a" fill="none" stroke-linecap="butt">
<path d="M-13.2 -20.8 L-0.4 8.5 L12.4 -20.8" stroke-width="6.6" stroke-linejoin="miter"/>
</g>
<g stroke="#fff" fill="none" stroke-width="0.9">
<path d="M-14.6 -21.5 L-0.4 11.2 L13.8 -21.5"/>
<path d="M-11.7 -21.5 L-0.4 4.6 L10.9 -21.5"/>
</g>
<path d="M-4.4 -8.2 L-0.4 -11.3 L3.6 -8.2 L3.4 -1.5 L-0.4 4.2 L-4.2 -1.5 Z" fill="#1a1a1a"/>
<path d="M-0.4 -10.6 C1.2 -8 2 -6.6 2 -5.2 A2.4 2.4 0 0 1 -2.8 -5.2 C-2.8 -6.6 -2 -8 -0.4 -10.6 Z" fill="#1a1a1a" stroke="#fff" stroke-width="0.7"/>
<ellipse cx="-0.4" cy="10.4" rx="6.6" ry="4.8" fill="#1a1a1a"/>
<path d="M-0.4 6.5 L-0.4 12.5" stroke="#fff" stroke-width="0.6"/>
<rect x="-1.5" y="12" width="2.2" height="13.6" fill="#1a1a1a"/>
<g font-family="'Liberation Sans',Arial,sans-serif" font-weight="bold" fill="#1a1a1a">
<text transform="translate(-21.6 1.3) scale(0.78 1)" font-size="16.2">F</text>
<text transform="translate(-5.1 -11.5) scale(0.88 1)" font-size="15.2">A</text>
<text transform="translate(13.3 1.4) scale(0.8 1)" font-size="16">O</text>
</g>
<defs>
<path id="arcL" d="M-22.41 7.72 A23.7 23.7 0 0 0 -2.48 23.57"/>
<path id="arcR" d="M3.30 23.47 A23.7 23.7 0 0 0 23.34 4.12"/>
</defs>
<g font-family="'Liberation Sans',Arial,sans-serif" font-weight="bold" fill="#1a1a1a" font-size="6.6">
<text letter-spacing="1.5"><textPath href="#arcL" startOffset="0">FIAT</textPath></text>
<text letter-spacing="0.9"><textPath href="#arcR" startOffset="0">PANIS</textPath></text>
</g>
</g>

</svg>
<div class="t" id="title">Germany</div>
<div class="t info" style="top:659px;font-weight:bold;letter-spacing:0.55px;">Precipitation</div>
<div class="t info" style="top:689px;">Dekad 2 November 2025</div>
<div class="t info" style="top:719px;letter-spacing:0.85px;">ECMWF</div>
<div class="t info" style="top:749px;">WGS84, Geographic Lat/Lon</div>

<div class="t" id="unit">mm/dekad</div>
<div class="sw" style="top:671px;background:#c0c0c0"></div><div class="lb" style="top:673px">0</div>
<div class="sw" style="top:688px;background:#ffffcc"></div><div class="lb" style="top:690px">0 - 5</div>
<div class="sw" style="top:705px;background:#f0dcb9"></div><div class="lb" style="top:707px">5 - 10</div>
<div class="sw" style="top:722px;background:#b4faaa"></div><div class="lb" style="top:724px">10 - 20</div>
<div class="sw" style="top:739px;background:#78f573"></div><div class="lb" style="top:741px">20 - 30</div>
<div class="sw" style="top:756px;background:#37d23c"></div><div class="lb" style="top:758px">30 - 40</div>
<div class="sw" style="top:773px;background:#b4f0fa"></div><div class="lb" style="top:775px">40 - 50</div>
<div class="sw" style="top:790px;background:#50a5f5"></div><div class="lb" style="top:792px">50 - 75</div>
<div class="sw" style="top:807px;background:#1e6eeb"></div><div class="lb" style="top:809px">75 - 100</div>
<div class="sw" style="top:824px;background:#ffe878"></div><div class="lb" style="top:826px">100 - 150</div>
<div class="sw" style="top:841px;background:#ffa000"></div><div class="lb" style="top:843px">150 - 200</div>
<div class="sw" style="top:858px;background:#ff3200"></div><div class="lb" style="top:860px">&gt; 200</div>

<div class="t fa" style="top:735.5px;transform:scaleX(0.992)">Food and Agriculture</div>
<div class="t fa" style="top:754.1px;transform:scaleX(1.012)">Organization of the</div>
<div class="t fa" style="top:771.8px;transform:scaleX(1.02)">United Nations</div>
<div id="rule"></div>
<div class="t gi" style="top:814px;transform:scaleX(1.011)">Global Information and Early</div>
<div class="t gi" style="top:833.3px;transform:scaleX(0.967)">Warning System – GIEWS</div>
<div class="t disc" style="top:909px;letter-spacing:0.418px">Disclaimer: The boundaries and names shown and the designations used on this map do not imply the expression of any opinion whatsoever on the part of FAO</div>
<div class="t disc" style="top:923px;letter-spacing:0.462px">concerning the legal status of any country, territory, area or of its authorities, or concerning the delimitation of its frontiers and boundaries.</div>
<div id="frame"></div>
</body>
</html>
